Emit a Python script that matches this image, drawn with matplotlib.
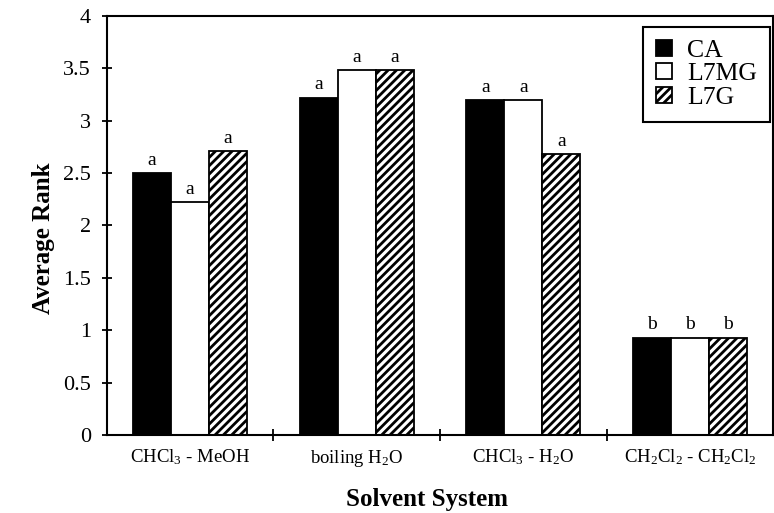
import numpy as np
import matplotlib
matplotlib.use("Agg")
import matplotlib.pyplot as plt
from matplotlib.ticker import FixedLocator

plt.rcParams['font.family'] = ['Liberation Serif', 'DejaVu Serif']
plt.rcParams['mathtext.fontset'] = 'custom'
plt.rcParams['mathtext.rm'] = 'Liberation Serif'
plt.rcParams['mathtext.it'] = 'Liberation Serif:italic'
plt.rcParams['hatch.linewidth'] = 2.0

# data
solvents = [r'CHCl$_3$ - MeOH', r'boiling H$_2$O', r'CHCl$_3$ - H$_2$O',
            r'CH$_2$Cl$_2$ - CH$_2$Cl$_2$']
series = ['CA', 'L7MG', 'L7G']
ca = [2.50, 3.22, 3.20, 0.93]
l7mg = [2.22, 3.48, 3.20, 0.93]
l7g = [2.71, 3.48, 2.68, 0.93]
letters = [['a', 'a', 'a'], ['a', 'a', 'a'], ['a', 'a', 'a'], ['b', 'b', 'b']]

values = [ca, l7mg, l7g]
styles = [dict(color='black'), dict(color='white'), dict(color='white', hatch='////')]

fig = plt.figure(figsize=(7.74, 5.13), dpi=100)
ax = fig.add_axes([0.138, 0.152, 0.861, 0.817])

x = np.arange(len(solvents)) + 0.5
w = 0.228
for i, (name, vals, st) in enumerate(zip(series, values, styles)):
    pos = x + (i - 1) * w
    ax.bar(pos, vals, w, label=name, edgecolor='black', linewidth=1.3, **st)
    for p, v, g in zip(pos, vals, letters):
        ax.text(p, v + 0.04, g[i], ha='center', va='bottom', fontsize=14)

ax.set_xlim(0, 4)
ax.set_ylim(0, 4)
ax.set_yticks(np.arange(0, 4.01, 0.5))
ax.set_yticklabels(['0', '0.5', '1', '1.5', '2', '2.5', '3', '3.5', '4'])
ax.set_xticks(x)
ax.set_xticklabels(solvents, fontsize=13.5)
ax.xaxis.set_minor_locator(FixedLocator([1, 2, 3]))
ax.tick_params(axis='x', which='major', length=0, pad=9)
ax.tick_params(axis='x', which='minor', direction='inout', length=9, width=1.3)
ax.tick_params(axis='y', direction='inout', length=7, width=1.3, labelsize=16, pad=8)
for s in ax.spines.values():
    s.set_linewidth(1.5)

ax.set_ylabel('Average Rank', fontsize=18, fontweight='bold', labelpad=6, y=0.47)
ax.set_xlabel('Solvent System', fontsize=18, fontweight='bold', labelpad=14, x=0.48)

leg = ax.legend(loc='upper right', fontsize=18.5, frameon=True, fancybox=False,
                edgecolor='black', framealpha=1, handlelength=0.6, handleheight=0.6,
                handletextpad=0.6, borderpad=0.5, labelspacing=0.05,
                borderaxespad=0, bbox_to_anchor=(0.995, 0.974))
leg.get_frame().set_linewidth(1.5)

fig.savefig('out.png', dpi=100)
